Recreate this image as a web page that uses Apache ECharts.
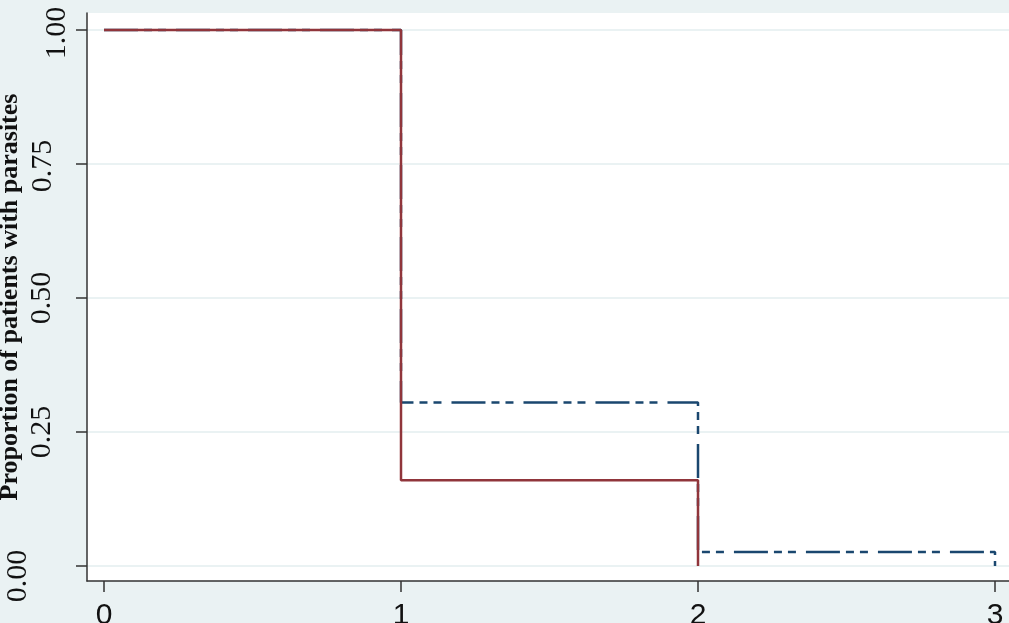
<!DOCTYPE html>
<html>
<head>
<meta charset="utf-8">
<script src="https://cdn.jsdelivr.net/npm/echarts@6/dist/echarts.min.js"></script>
<style>
html,body{margin:0;padding:0;background:#EAF2F3;}
#chart{width:1009px;height:623px;}
</style>
</head>
<body>
<div id="chart"></div>
<script>
// Follow-up time points
const times = [0, 1, 2, 3];
// Proportion with parasites, group drawn dash-dot (navy)
const groupDashDot = [1.00, 0.305, 0.026, 0.00];
// Proportion with parasites, group drawn solid (maroon)
const groupSolid = [1.00, 0.16, 0.00];
// Axis ticks and labels
const xTicks = [0, 1, 2, 3];
const yTicks = [0, 0.25, 0.5, 0.75, 1];
const yTickLabels = ['0.00', '0.25', '0.50', '0.75', '1.00'];
const yTitle = 'Proportion of patients with parasites';

const pairs = (xs, ys) => ys.map((y, i) => [xs[i], y]);

// per-label offsets reproduce the reference's label placement
const labelPad = {
  '0.00': [0, 20, 39, 0],
  '0.25': [0, 0, 15, 0],
  '0.50': [0, 0, 15, 0],
  '0.75': [0, 4, 14, 0],
  '1.00': [0, 6, 0, 0]
};
const rich = {};
yTickLabels.forEach((t, i) => {
  rich['k' + i] = {
    fontFamily: 'Liberation Serif',
    fontSize: 30,
    color: '#111',
    padding: labelPad[t]
  };
});

const chart = echarts.init(document.getElementById('chart'), null, {renderer: 'canvas'});
chart.setOption({
  backgroundColor: '#EAF2F3',
  animation: false,
  grid: {
    left: 87, top: 13, right: -3, bottom: 42,
    show: true, backgroundColor: '#FFFFFF', borderWidth: 0,
    containLabel: false,
    outerBoundsMode: 'none'
  },
  xAxis: {
    type: 'value',
    min: -17 / 297,
    max: 3 + 17 / 297,
    axisLine: {show: true, onZero: false, lineStyle: {color: '#333', width: 1.5}},
    axisTick: {show: true, length: 11, customValues: xTicks, lineStyle: {color: '#333', width: 1.5}},
    axisLabel: {
      customValues: xTicks,
      margin: 20,
      fontFamily: 'Liberation Sans',
      fontSize: 30,
      color: '#111',
      hideOverlap: false
    },
    splitLine: {show: false}
  },
  yAxis: {
    type: 'value',
    min: -15 / 536,
    max: 1 + 17 / 536,
    name: yTitle,
    nameLocation: 'middle',
    nameGap: 64,
    nameMoveOverlap: false,
    nameTextStyle: {
      fontFamily: 'Liberation Serif',
      fontWeight: 'bold',
      fontSize: 26,
      color: '#111'
    },
    axisLine: {show: true, onZero: false, lineStyle: {color: '#333', width: 1.5}},
    axisTick: {show: true, length: 11, customValues: yTicks, lineStyle: {color: '#333', width: 1.5}},
    axisLabel: {
      customValues: yTicks,
      rotate: 90,
      margin: 15,
      hideOverlap: false,
      formatter: function (v) {
        let idx = 0, best = 1e9;
        yTicks.forEach((t, i) => { if (Math.abs(t - v) < best) { best = Math.abs(t - v); idx = i; } });
        return '{k' + idx + '|' + yTickLabels[idx] + '}';
      },
      rich: rich
    },
    splitLine: {show: true, lineStyle: {color: '#EAF2F3', width: 2}}
  },
  series: [
    {
      type: 'line',
      step: 'end',
      data: pairs(times, groupDashDot),
      showSymbol: false,
      symbol: 'none',
      lineStyle: {color: '#1A476F', width: 2.5, type: [34, 6, 8, 6, 8, 10], cap: 'butt'},
      z: 2
    },
    {
      type: 'line',
      step: 'end',
      data: pairs(times, groupSolid),
      showSymbol: false,
      symbol: 'none',
      lineStyle: {color: '#90353B', width: 2.5},
      z: 3
    }
  ]
});
</script>
</body>
</html>
